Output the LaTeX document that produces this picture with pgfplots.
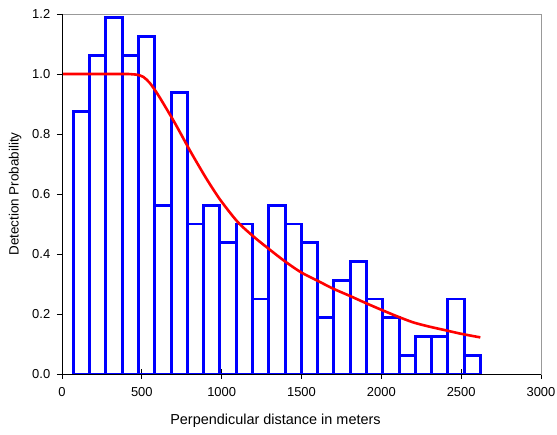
\documentclass[border=0pt]{standalone}
\usepackage{fontspec}
\setmainfont{Liberation Sans}
\usepackage{pgfplots}
\pgfplotsset{compat=1.18}
\begin{document}
\begin{tikzpicture}
\path[use as bounding box] (0,0) rectangle (557bp,435bp);
\begin{axis}[
  at={(62bp,61bp)}, anchor=south west,
  width=479bp, height=360bp, scale only axis,
  xmin=0, xmax=3000, ymin=0, ymax=1.2,
  xtick={0,500,1000,1500,2000,2500,3000},
  ytick={0,0.2,0.4,0.6,0.8,1.0,1.2},
  xtick pos=bottom, ytick pos=left,
  x tick style={/pgfplots/major tick length=10bp}, xtick align=center,
  y tick style={/pgfplots/major tick length=5bp}, ytick align=outside,
  tick style={black, line width=0.8bp},
  axis line style={gray!80, line width=0.8bp},
  /pgf/number format/assume math mode=true,
  y tick label style={/pgf/number format/.cd, fixed, fixed zerofill, precision=1},
  x tick label style={/pgf/number format/1000 sep={}},
  tick label style={font=\fontsize{13}{15}\selectfont},
  label style={font=\fontsize{13.5}{16}\selectfont},
  xlabel style={font=\fontsize{14.5}{17}\selectfont, xshift=-26bp},
  xticklabel shift=8bp, yticklabel shift=4bp,
  xlabel shift=10bp, ylabel shift=4bp,
  xlabel={Perpendicular distance in meters},
  ylabel={Detection Probability},
  after end axis/.code={
    \draw[black, line width=0.9bp] (rel axis cs:0,1) -- (rel axis cs:0,0) -- (rel axis cs:1,0);
  },
]
\addplot[ybar interval, draw=blue, line width=2.9bp, fill=none] table {
x y
71 0.875
173 1.0625
275 1.1875
377 1.0625
479 1.125
581 0.5625
683 0.9375
785 0.5
887 0.5625
989 0.4375
1091 0.5
1193 0.25
1295 0.5625
1397 0.5
1499 0.4375
1601 0.1875
1703 0.3125
1805 0.375
1907 0.25
2009 0.1875
2111 0.0625
2213 0.125
2315 0.125
2417 0.25
2519 0.0625
2621 0.0625
};
\addplot[red, line width=2.6bp, smooth] coordinates {
(0,1.0) (200,1.0) (400,1.0) (440,0.999) (475,0.997) (510,0.99) (550,0.970)
(600,0.932) (650,0.888) (700,0.843) (750,0.795) (800,0.746) (850,0.70)
(900,0.655) (950,0.613) (1000,0.574) (1100,0.507) (1200,0.458) (1300,0.415)
(1400,0.374) (1500,0.338) (1600,0.311) (1700,0.284) (1800,0.261)
(1900,0.237) (2000,0.214) (2100,0.192) (2200,0.172) (2300,0.158)
(2400,0.146) (2500,0.134) (2620,0.122)
};
\end{axis}
\end{tikzpicture}
\end{document}
